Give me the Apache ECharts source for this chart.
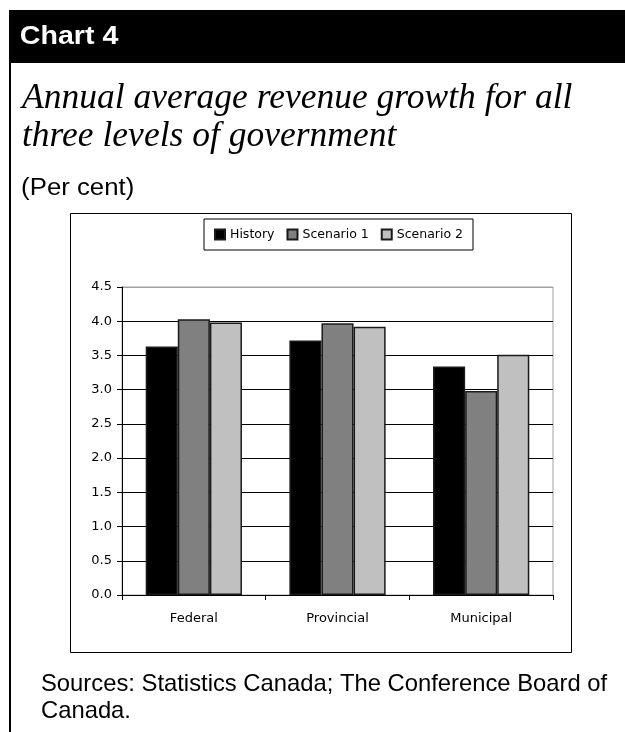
<!DOCTYPE html>
<html>
<head>
<meta charset="utf-8">
<style>
  html, body { margin: 0; padding: 0; background: #fff; }
  #chart { width: 625px; height: 732px; }
</style>
<script src="https://cdn.jsdelivr.net/npm/echarts@6/dist/echarts.min.js"></script>
</head>
<body>
<div id="chart"></div>
<script>
// Revenue growth by level of government, per cent
const categories = ['Federal', 'Provincial', 'Municipal'];
const seriesNames = ['History', 'Scenario 1', 'Scenario 2'];
const history = [3.63, 3.72, 3.34];
const scenario1 = [4.03, 3.97, 2.98];
const scenario2 = [3.98, 3.92, 3.51];
const yTicks = ['0.0', '0.5', '1.0', '1.5', '2.0', '2.5', '3.0', '3.5', '4.0', '4.5'];

const seriesColors = ['#000000', '#808080', '#c0c0c0'];
const seriesData = [history, scenario1, scenario2];

const chart = echarts.init(document.getElementById('chart'), null, { renderer: 'canvas' });

// grid lines black, top edge of the plot (4.5) grey like the plot frame
const splitColors = yTicks.map((t, i) => (i === yTicks.length - 1 ? '#a0a0a0' : '#000000'));

const sans = 'Liberation Sans, Arial, sans-serif';
const axisFont = 'DejaVu Sans, Arial, sans-serif';
const serif = 'italic 35.5px "Liberation Serif", "Times New Roman", serif';

chart.setOption({
  animation: false,
  backgroundColor: '#ffffff',
  graphic: [
    // header band
    { type: 'rect', shape: { x: 9, y: 10, width: 616, height: 53 }, style: { fill: '#000' }, z: 1 },
    // left rule of the panel
    { type: 'rect', shape: { x: 9, y: 63, width: 2, height: 669 }, style: { fill: '#000' }, z: 1 },
    // chart frame
    { type: 'rect', shape: { x: 70.5, y: 213.5, width: 501, height: 439 },
      style: { fill: 'none', stroke: '#000', lineWidth: 1 }, z: 1 },
    { type: 'text', x: 22, y: 37, scaleX: 1.1, originX: 22,
      style: { text: 'Chart 4', fill: '#fff', font: 'bold 26px ' + sans, verticalAlign: 'middle' }, z: 2 },
    { type: 'text', x: 22, y: 99,
      style: { text: 'Annual average revenue growth for all', fill: '#000', font: serif, verticalAlign: 'middle' }, z: 2 },
    { type: 'text', x: 22, y: 137,
      style: { text: 'three levels of government', fill: '#000', font: serif, verticalAlign: 'middle' }, z: 2 },
    { type: 'text', x: 24, y: 189, scaleX: 1.12, originX: 24,
      style: { text: '(Per cent)', fill: '#000', font: '23px ' + sans, verticalAlign: 'middle' }, z: 2 },
    { type: 'text', x: 41, y: 684,
      style: { text: 'Sources: Statistics Canada; The Conference Board of', fill: '#000',
               font: '23.8px ' + sans, verticalAlign: 'middle' }, z: 2 },
    { type: 'text', x: 41, y: 711,
      style: { text: 'Canada.', fill: '#000', font: '23.8px ' + sans, verticalAlign: 'middle' }, z: 2 }
  ],
  legend: {
    data: seriesNames,
    left: 204,
    top: 219,
    orient: 'horizontal',
    borderColor: '#000',
    borderWidth: 1,
    padding: [9, 10, 9, 10],
    itemWidth: 10,
    itemHeight: 10,
    itemGap: 12,
    icon: 'rect',
    textStyle: { fontFamily: axisFont, fontSize: 12.5, color: '#000' }
  },
  grid: {
    left: 122,
    right: 72,
    top: 287,
    bottom: 137,
    show: true,
    borderColor: '#a0a0a0',
    borderWidth: 1,
    backgroundColor: 'transparent'
  },
  xAxis: {
    type: 'category',
    data: categories,
    boundaryGap: true,
    axisLine: { lineStyle: { color: '#000', width: 1 } },
    axisTick: { show: true, length: 5, lineStyle: { color: '#000' } },
    axisLabel: { color: '#000', fontFamily: axisFont, fontSize: 13, margin: 17 }
  },
  yAxis: {
    type: 'value',
    min: 0,
    max: 4.5,
    interval: 0.5,
    axisLine: { show: true, lineStyle: { color: '#000', width: 1 } },
    axisTick: { show: true, length: 5, lineStyle: { color: '#000' } },
    axisLabel: {
      color: '#000', fontFamily: axisFont, fontSize: 13, margin: 10,
      formatter: (v) => yTicks[Math.round(v / 0.5)]
    },
    splitLine: { show: true, lineStyle: { color: splitColors, width: 1 } }
  },
  series: seriesNames.map((name, i) => ({
    name: name,
    type: 'bar',
    data: seriesData[i],
    barGap: '0%',
    barCategoryGap: '33%',
    itemStyle: { color: seriesColors[i], borderColor: '#1a1a1a', borderWidth: 1.5 }
  }))
});
</script>
</body>
</html>
